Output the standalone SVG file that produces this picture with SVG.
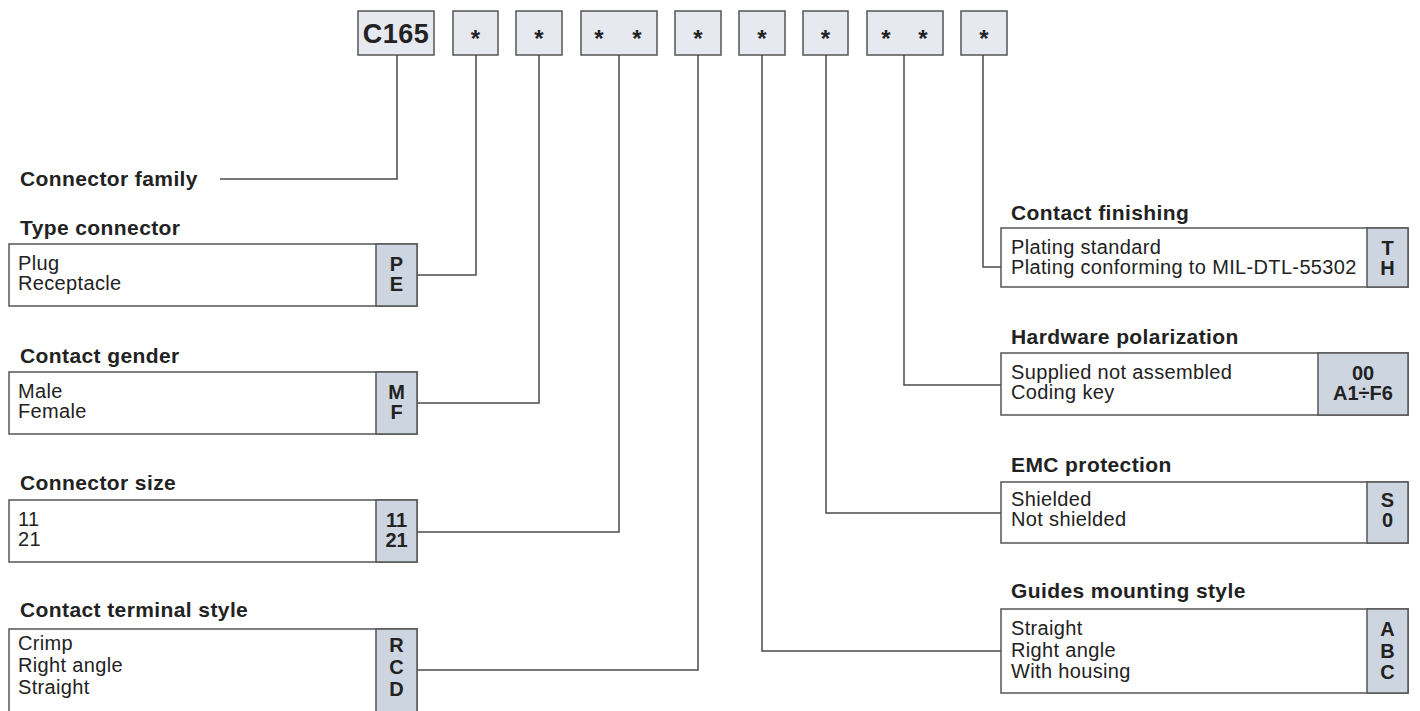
<svg xmlns="http://www.w3.org/2000/svg" width="1420" height="711" viewBox="0 0 1420 711">
<style>
.top{fill:#e7e9f1;stroke:#555;stroke-width:1.5}
.box{fill:#fff;stroke:#555;stroke-width:1.5}
.code{fill:#cdd5e0;stroke:#555;stroke-width:1.5}
.ln{fill:none;stroke:#4a4a4a;stroke-width:1.5}
text{font-family:"Liberation Sans",Arial,sans-serif;fill:#222}
.t{font-size:21px;font-weight:bold;letter-spacing:0.4px}
.r{font-size:20px;letter-spacing:0.35px}
.c{font-size:20px;font-weight:bold;text-anchor:middle}
.star{font-size:24px;font-weight:bold;text-anchor:middle}
.big{font-size:27px;font-weight:bold;text-anchor:middle;letter-spacing:0.5px}
</style>
<g id="code-boxes">
<g id="top-c165"><rect class="top" x="358" y="11" width="76" height="44"/><text class="big" x="396" y="43">C165</text></g>
<g id="top-type"><rect class="top" x="453" y="11" width="45" height="44"/><text class="star" x="475.5" y="47">*</text></g>
<g id="top-gender"><rect class="top" x="516" y="11" width="46" height="44"/><text class="star" x="539" y="47">*</text></g>
<g id="top-size"><rect class="top" x="581" y="11" width="76" height="44"/><text class="star" x="599" y="47">*</text><text class="star" x="637" y="47">*</text></g>
<g id="top-terminal"><rect class="top" x="675" y="11" width="46" height="44"/><text class="star" x="698" y="47">*</text></g>
<g id="top-guides"><rect class="top" x="739" y="11" width="46" height="44"/><text class="star" x="762" y="47">*</text></g>
<g id="top-emc"><rect class="top" x="803" y="11" width="45" height="44"/><text class="star" x="825.5" y="47">*</text></g>
<g id="top-hardware"><rect class="top" x="867" y="11" width="76" height="44"/><text class="star" x="886" y="47">*</text><text class="star" x="923" y="47">*</text></g>
<g id="top-finishing"><rect class="top" x="961" y="11" width="46" height="44"/><text class="star" x="984" y="47">*</text></g>
</g>
<g id="connectors">
<polyline class="ln" points="397,55 397,179 220,179"/>
<polyline class="ln" points="476,55 476,275 417,275"/>
<polyline class="ln" points="539,55 539,403 417,403"/>
<polyline class="ln" points="619,55 619,532 417,532"/>
<polyline class="ln" points="698,55 698,670 417,670"/>
<polyline class="ln" points="762,55 762,651 1001,651"/>
<polyline class="ln" points="826,55 826,513 1001,513"/>
<polyline class="ln" points="904,55 904,385 1001,385"/>
<polyline class="ln" points="983,55 983,267 1001,267"/>
</g>
<g id="family"><text class="t" x="20" y="186">Connector family</text></g>
<g id="type-connector">
<text class="t" x="20" y="235">Type connector</text>
<rect class="box" x="9" y="244" width="408" height="62"/>
<rect class="code" x="376" y="244" width="41" height="62"/>
<text class="r" x="18" y="270">Plug</text><text class="r" x="18" y="290">Receptacle</text>
<text class="c" x="396.5" y="271">P</text><text class="c" x="396.5" y="291">E</text>
</g>
<g id="contact-gender">
<text class="t" x="20" y="363">Contact gender</text>
<rect class="box" x="9" y="372" width="408" height="62"/>
<rect class="code" x="376" y="372" width="41" height="62"/>
<text class="r" x="18" y="398">Male</text><text class="r" x="18" y="418">Female</text>
<text class="c" x="396.5" y="399">M</text><text class="c" x="396.5" y="419">F</text>
</g>
<g id="connector-size">
<text class="t" x="20" y="490">Connector size</text>
<rect class="box" x="9" y="500" width="408" height="62"/>
<rect class="code" x="376" y="500" width="41" height="62"/>
<text class="r" x="18" y="526">11</text><text class="r" x="18" y="546">21</text>
<text class="c" x="396.5" y="527">11</text><text class="c" x="396.5" y="547">21</text>
</g>
<g id="terminal-style">
<text class="t" x="20" y="617">Contact terminal style</text>
<rect class="box" x="9" y="629" width="408" height="95"/>
<rect class="code" x="376" y="629" width="41" height="95"/>
<text class="r" x="18" y="650">Crimp</text><text class="r" x="18" y="672">Right angle</text><text class="r" x="18" y="694">Straight</text>
<text class="c" x="396.5" y="652">R</text><text class="c" x="396.5" y="674">C</text><text class="c" x="396.5" y="696">D</text>
</g>
<g id="contact-finishing">
<text class="t" x="1011" y="220">Contact finishing</text>
<rect class="box" x="1001" y="228" width="407" height="59"/>
<rect class="code" x="1367" y="228" width="41" height="59"/>
<text class="r" x="1011" y="254">Plating standard</text><text class="r" x="1011" y="274">Plating conforming to MIL-DTL-55302</text>
<text class="c" x="1387.5" y="255">T</text><text class="c" x="1387.5" y="275">H</text>
</g>
<g id="hardware-polarization">
<text class="t" x="1011" y="344">Hardware polarization</text>
<rect class="box" x="1001" y="353" width="407" height="62"/>
<rect class="code" x="1318" y="353" width="90" height="62"/>
<text class="r" x="1011" y="379">Supplied not assembled</text><text class="r" x="1011" y="399">Coding key</text>
<text class="c" x="1363" y="380">00</text><text class="c" x="1363" y="400">A1÷F6</text>
</g>
<g id="emc-protection">
<text class="t" x="1011" y="472">EMC protection</text>
<rect class="box" x="1001" y="482" width="407" height="61"/>
<rect class="code" x="1367" y="482" width="41" height="61"/>
<text class="r" x="1011" y="506">Shielded</text><text class="r" x="1011" y="526">Not shielded</text>
<text class="c" x="1387.5" y="507">S</text><text class="c" x="1387.5" y="527">0</text>
</g>
<g id="guides-mounting">
<text class="t" x="1011" y="598">Guides mounting style</text>
<rect class="box" x="1001" y="609" width="407" height="84"/>
<rect class="code" x="1367" y="609" width="41" height="84"/>
<text class="r" x="1011" y="635">Straight</text><text class="r" x="1011" y="657">Right angle</text><text class="r" x="1011" y="678">With housing</text>
<text class="c" x="1387.5" y="636">A</text><text class="c" x="1387.5" y="658">B</text><text class="c" x="1387.5" y="679">C</text>
</g>
</svg>
